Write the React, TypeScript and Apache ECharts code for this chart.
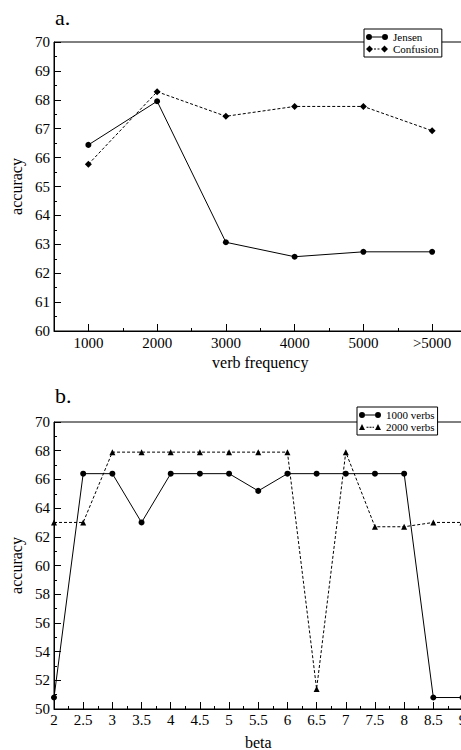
import React, { useEffect, useRef } from "react";
import * as echarts from "echarts";

const verbFreqCats = ["1000", "2000", "3000", "4000", "5000", ">5000"];
const jensen = [66.44, 67.95, 63.07, 62.57, 62.74, 62.74];
const confusion = [65.77, 68.28, 67.43, 67.77, 67.77, 66.93];

const betaValues = [2, 2.5, 3, 3.5, 4, 4.5, 5, 5.5, 6, 6.5, 7, 7.5, 8, 8.5, 9];
const verbs1000 = [50.8, 66.4, 66.4, 63.0, 66.4, 66.4, 66.4, 65.2, 66.4, 66.4, 66.4, 66.4, 66.4, 50.8, 50.8];
const verbs2000 = [63.0, 63.0, 67.9, 67.9, 67.9, 67.9, 67.9, 67.9, 67.9, 51.4, 67.9, 62.7, 62.7, 63.0, 63.0];

const FONT = "Liberation Serif";

const ICON_CIRCLE =
  "path://M0,3.5A3,3,0,1,1,6,3.5A3,3,0,1,1,0,3.5Z M16,3.5A3,3,0,1,1,22,3.5A3,3,0,1,1,16,3.5Z M6,3H16V4H6Z";
const ICON_DIAMOND =
  "path://M0,3.5L3.5,0L7,3.5L3.5,7Z M15,3.5L18.5,0L22,3.5L18.5,7Z M8,3H10V4H8Z M11.5,3H13.5V4H11.5Z";
const ICON_TRIANGLE =
  "path://M0,6.5L3,0.5L6,6.5Z M16,6.5L19,0.5L22,6.5Z M7.5,3.2H9.5V4.2H7.5Z M10.5,3.2H12.5V4.2H10.5Z M13.5,3.2H15V4.2H13.5Z";

export default function App() {
  const ref = useRef<HTMLDivElement>(null);

  useEffect(() => {
    if (!ref.current) return;
    const chart = echarts.init(ref.current, null, { renderer: "svg" });

    const axisCommon = {
      axisLine: { show: true, lineStyle: { color: "#000", width: 1 } },
      axisTick: { show: true, inside: true, length: 7, lineStyle: { color: "#000" } },
      minorTick: { show: true, splitNumber: 2, length: 3, lineStyle: { color: "#000" } },
      splitLine: { show: false },
      minorSplitLine: { show: false },
      axisLabel: { color: "#000", fontFamily: FONT, fontSize: 15 },
      nameTextStyle: { color: "#000", fontFamily: FONT, fontSize: 16 },
    };

    const legendCommon = {
      orient: "vertical",
      backgroundColor: "#fff",
      borderColor: "#000",
      borderWidth: 1,
      borderRadius: 0,
      padding: [2, 3, 2, 2],
      itemGap: 0,
      itemWidth: 22,
      itemHeight: 7,
      selectedMode: false,
      textStyle: { color: "#000", fontFamily: FONT, fontSize: 11, lineHeight: 12 },
    };

    chart.setOption({
      animation: false,
      backgroundColor: "#fff",
      title: [
        { text: "a.", left: 50, top: 1, textStyle: { fontFamily: FONT, fontSize: 22, fontWeight: "normal", color: "#000" } },
        { text: "b.", left: 50, top: 379, textStyle: { fontFamily: FONT, fontSize: 22, fontWeight: "normal", color: "#000" } },
      ],
      legend: [
        {
          ...legendCommon,
          left: 364,
          top: 29,
          data: [
            { name: "Jensen", icon: ICON_CIRCLE },
            { name: "Confusion", icon: ICON_DIAMOND },
          ],
        },
        {
          ...legendCommon,
          left: 357,
          top: 407,
          data: [
            { name: "1000 verbs", icon: ICON_CIRCLE },
            { name: "2000 verbs", icon: ICON_TRIANGLE },
          ],
        },
      ],
      grid: [
        { left: 54, top: 42, width: 412.5, height: 289, show: true, borderColor: "#000", borderWidth: 1, backgroundColor: "transparent", outerBoundsMode: "none", containLabel: false },
        { left: 54, top: 422, width: 408.5, height: 287, show: true, borderColor: "#000", borderWidth: 1, backgroundColor: "transparent", outerBoundsMode: "none", containLabel: false },
      ],
      xAxis: [
        {
          ...axisCommon,
          type: "category",
          gridIndex: 0,
          data: verbFreqCats,
          boundaryGap: true,
          axisTick: { show: true, inside: true, length: 7, alignWithLabel: true, lineStyle: { color: "#000" } },
          minorTick: { show: false },
          axisLabel: { ...axisCommon.axisLabel, margin: 4, interval: 0 },
          name: "verb frequency",
          nameLocation: "middle",
          nameGap: 23,
        },
        {
          type: "category",
          gridIndex: 0,
          data: verbFreqCats,
          boundaryGap: true,
          position: "bottom",
          axisLine: { show: false },
          axisTick: { show: true, inside: true, length: 3, alignWithLabel: false, interval: 0, lineStyle: { color: "#000" } },
          axisLabel: { show: false },
          splitLine: { show: false },
        },
        {
          ...axisCommon,
          type: "value",
          gridIndex: 1,
          min: 2,
          max: 9,
          interval: 0.5,
          axisLabel: { ...axisCommon.axisLabel, margin: 3, showMaxLabel: true, showMinLabel: true },
          name: "beta",
          nameLocation: "middle",
          nameGap: 25,
        },
      ],
      yAxis: [
        {
          ...axisCommon,
          type: "value",
          gridIndex: 0,
          min: 60,
          max: 70,
          interval: 1,
          axisLabel: { ...axisCommon.axisLabel, margin: 4 },
          name: "accuracy",
          nameLocation: "middle",
          nameGap: 27,
        },
        {
          ...axisCommon,
          type: "value",
          gridIndex: 1,
          min: 50,
          max: 70,
          interval: 2,
          axisLabel: { ...axisCommon.axisLabel, margin: 4 },
          name: "accuracy",
          nameLocation: "middle",
          nameGap: 27,
        },
      ],
      series: [
        {
          name: "Jensen",
          type: "line",
          xAxisIndex: 0,
          yAxisIndex: 0,
          data: jensen,
          symbol: "circle",
          symbolSize: 6,
          itemStyle: { color: "#000" },
          lineStyle: { color: "#000", width: 1, type: "solid" },
        },
        {
          name: "Confusion",
          type: "line",
          xAxisIndex: 0,
          yAxisIndex: 0,
          data: confusion,
          symbol: "diamond",
          symbolSize: 7,
          itemStyle: { color: "#000" },
          lineStyle: { color: "#000", width: 1, type: [3, 2] },
        },
        {
          name: "1000 verbs",
          type: "line",
          xAxisIndex: 2,
          yAxisIndex: 1,
          data: betaValues.map((b, i) => [b, verbs1000[i]]),
          symbol: "circle",
          symbolSize: 6,
          itemStyle: { color: "#000" },
          lineStyle: { color: "#000", width: 1, type: "solid" },
        },
        {
          name: "2000 verbs",
          type: "line",
          xAxisIndex: 2,
          yAxisIndex: 1,
          data: betaValues.map((b, i) => [b, verbs2000[i]]),
          symbol: "triangle",
          symbolSize: 6,
          itemStyle: { color: "#000" },
          lineStyle: { color: "#000", width: 1, type: [3, 2] },
        },
      ],
    });

    return () => chart.dispose();
  }, []);

  return (
    <div
      ref={ref}
      style={{ position: "fixed", left: 0, top: 0, width: 461, height: 750, background: "#fff" }}
    />
  );
}
